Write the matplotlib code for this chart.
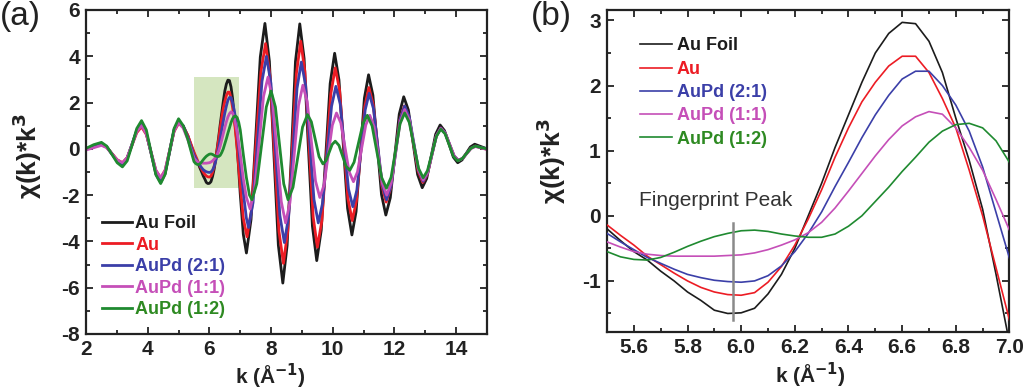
import matplotlib
matplotlib.use("Agg")
import matplotlib.pyplot as plt
from matplotlib.patches import Rectangle
from matplotlib.ticker import MultipleLocator, FormatStrFormatter

plt.rcParams['font.family'] = ['Liberation Sans', 'DejaVu Sans']
plt.rcParams['axes.unicode_minus'] = False

# ---------------- data ----------------
series_names = ['Au Foil', 'Au', 'AuPd (2:1)', 'AuPd (1:1)', 'AuPd (1:2)']
series_colors = ['#1c1c1c', '#ec1c24', '#3b3fa8', '#c54fb8', '#1f8a30']
text_colors = ['#1c1c1c', '#ec1c24', '#3b3fa8', '#c54fb8', '#2e8a22']

# low-k part (panel a), shared k grid
k_lo = [2.0, 2.25, 2.5, 2.67, 2.84, 3.01, 3.18, 3.335, 3.49, 3.645, 3.8, 3.955,
        4.11, 4.265, 4.42, 4.565, 4.71, 4.855, 5.0, 5.15, 5.3, 5.4]
black_lo = [0.0, 0.12, 0.22, 0.09, -0.22, -0.52, -0.65, -0.4, 0.2, 0.8, 1.05, 0.68,
            -0.2, -1.09, -1.45, -1.07, -0.14, 0.8, 1.18, 1.0, 0.57, 0.17]
red_lo = [-0.02, 0.08, 0.18, 0.07, -0.2, -0.47, -0.6, -0.38, 0.15, 0.7, 0.95, 0.62,
          -0.15, -0.93, -1.25, -0.92, -0.08, 0.75, 1.1, 0.95, 0.58, 0.22]
blue_lo = [0.0, 0.1, 0.2, 0.08, -0.22, -0.52, -0.65, -0.4, 0.18, 0.78, 1.05, 0.68,
           -0.17, -1.0, -1.35, -1.0, -0.1, 0.83, 1.2, 0.98, 0.5, 0.1]
mag_lo = [-0.05, 0.05, 0.15, 0.05, -0.22, -0.48, -0.6, -0.38, 0.18, 0.75, 1.0, 0.65,
          -0.15, -0.93, -1.25, -0.93, -0.07, 0.77, 1.12, 0.9, 0.4, 0.0]
green_lo = [0.02, 0.18, 0.28, 0.12, -0.24, -0.6, -0.78, -0.52, 0.15, 0.88, 1.22, 0.82,
            -0.15, -1.12, -1.5, -1.1, -0.1, 0.88, 1.3, 1.0, 0.42, -0.08]

# zoomed region (panel b), shared k grid 5.5 .. 7.0
k_b = [5.5, 5.55, 5.6, 5.65, 5.7, 5.75, 5.8, 5.85, 5.9, 5.95, 6.0, 6.05, 6.1, 6.15,
       6.2, 6.25, 6.3, 6.35, 6.4, 6.45, 6.5, 6.55, 6.6, 6.65, 6.7, 6.75, 6.8, 6.85,
       6.9, 6.95, 7.0]
black_b = [-0.2, -0.38, -0.55, -0.68, -0.85, -1.0, -1.17, -1.3, -1.45, -1.5, -1.49,
           -1.42, -1.2, -0.9, -0.5, 0.0, 0.5, 1.05, 1.55, 2.05, 2.5, 2.8, 2.97, 2.95,
           2.68, 2.2, 1.5, 0.85, 0.1, -0.9, -1.95]
red_b = [-0.14, -0.3, -0.45, -0.62, -0.75, -0.88, -1.0, -1.1, -1.17, -1.21, -1.22,
         -1.18, -1.02, -0.78, -0.45, -0.05, 0.4, 0.9, 1.35, 1.75, 2.05, 2.3, 2.45,
         2.45, 2.2, 1.8, 1.35, 0.7, 0.0, -0.8, -1.6]
blue_b = [-0.27, -0.4, -0.52, -0.64, -0.73, -0.82, -0.9, -0.95, -0.99, -1.01, -1.02,
          -1.0, -0.92, -0.77, -0.55, -0.27, 0.06, 0.45, 0.82, 1.2, 1.55, 1.85, 2.1,
          2.22, 2.22, 2.0, 1.7, 1.3, 0.75, 0.05, -0.65]
mag_b = [-0.4, -0.48, -0.55, -0.59, -0.61, -0.62, -0.62, -0.62, -0.62, -0.61, -0.6,
         -0.57, -0.52, -0.45, -0.37, -0.26, -0.1, 0.12, 0.38, 0.65, 0.92, 1.17, 1.38,
         1.52, 1.6, 1.56, 1.35, 1.05, 0.7, 0.25, -0.22]
green_b = [-0.55, -0.63, -0.67, -0.68, -0.64, -0.56, -0.47, -0.39, -0.32, -0.27, -0.23,
           -0.22, -0.24, -0.28, -0.31, -0.33, -0.33, -0.28, -0.16, 0.0, 0.22, 0.44,
           0.68, 0.9, 1.13, 1.3, 1.4, 1.42, 1.35, 1.15, 0.82]

# high-k part (panel a)
black_k_hi = [7.1, 7.2, 7.35, 7.5, 7.65, 7.8, 7.945, 8.09, 8.235, 8.38, 8.52, 8.66, 8.79,
              8.93, 9.07, 9.2, 9.34, 9.48, 9.625, 9.77, 9.915, 10.06, 10.2, 10.34, 10.48,
              10.62, 10.755, 10.89, 11.025, 11.16, 11.3, 11.44, 11.58, 11.72, 11.865,
              12.01, 12.155, 12.3, 12.45, 12.6, 12.75, 12.9, 13.045, 13.19, 13.335,
              13.48, 13.62, 13.765, 13.91, 14.05, 14.19, 14.325, 14.46, 14.6, 14.8, 15.0]
black_v_hi = [-3.7, -4.5, -3.05, 0.46, 3.97, 5.42, 3.78, -0.19, -4.16, -5.8, -4.17, -0.2,
              3.77, 5.4, 3.91, 0.29, -3.34, -4.83, -3.52, -0.35, 2.82, 4.13, 2.98, 0.2,
              -2.57, -3.72, -2.71, -0.26, 2.19, 3.2, 2.32, 0.17, -1.98, -2.86, -2.11,
              -0.3, 1.5, 2.25, 1.68, 0.29, -1.11, -1.68, -1.28, -0.33, 0.63, 1.03, 0.79,
              0.22, -0.36, -0.6, -0.48, -0.2, 0.08, 0.2, 0.1, 0.0]
red_k_hi = [7.1, 7.22, 7.37, 7.52, 7.67, 7.82, 7.965, 8.11, 8.255, 8.4, 8.54, 8.68, 8.82,
            8.96, 9.095, 9.23, 9.365, 9.5, 9.645, 9.79, 9.935, 10.08, 10.22, 10.355,
            10.49, 10.63, 10.765, 10.9, 11.035, 11.17, 11.31, 11.45, 11.59, 11.73, 11.88,
            12.025, 12.17, 12.32, 12.47, 12.62, 12.77, 12.92, 13.065, 13.21, 13.355,
            13.5, 13.64, 13.785, 13.93, 14.07, 14.21, 14.345, 14.48, 14.62, 14.8, 15.0]
red_v_hi = [-3.0, -3.8, -2.58, 0.38, 3.33, 4.55, 3.16, -0.2, -3.56, -4.95, -3.55, -0.15,
            3.25, 4.65, 3.35, 0.2, -2.95, -4.25, -3.12, -0.38, 2.37, 3.5, 2.54, 0.2,
            -2.14, -3.1, -2.26, -0.23, 1.81, 2.65, 1.93, 0.18, -1.58, -2.3, -1.69, -0.23,
            1.24, 1.85, 1.37, 0.2, -0.97, -1.45, -1.11, -0.28, 0.56, 0.9, 0.7, 0.2, -0.3,
            -0.5, -0.41, -0.19, 0.03, 0.12, 0.05, -0.02]
blue_k_hi = [7.1, 7.2, 7.27, 7.415, 7.56, 7.705, 7.85, 7.995, 8.14, 8.285, 8.43, 8.57,
             8.705, 8.84, 8.98, 9.12, 9.255, 9.39, 9.53, 9.67, 9.815, 9.96, 10.1, 10.24,
             10.375, 10.51, 10.65, 10.78, 10.915, 11.05, 11.18, 11.32, 11.46, 11.6, 11.74,
             11.89, 12.035, 12.18, 12.33, 12.48, 12.63, 12.78, 12.93, 13.07, 13.215,
             13.36, 13.5, 13.64, 13.785, 13.93, 14.07, 14.21, 14.345, 14.48, 14.62, 14.8,
             15.0]
blue_v_hi = [-1.9, -3.0, -3.4, -2.32, 0.3, 2.92, 4.0, 2.83, -0.03, -2.88, -4.05, -2.91,
             -0.15, 2.61, 3.75, 2.74, 0.28, -2.19, -3.2, -2.34, -0.25, 1.84, 2.7, 1.94,
             0.1, -1.74, -2.5, -1.79, -0.05, 1.68, 2.4, 1.73, 0.1, -1.53, -2.2, -1.61,
             -0.18, 1.26, 1.85, 1.38, 0.23, -0.93, -1.4, -1.06, -0.25, 0.57, 0.9, 0.7,
             0.2, -0.3, -0.5, -0.41, -0.19, 0.03, 0.12, 0.06, 0.0]
mag_k_hi = [7.1, 7.2, 7.32, 7.465, 7.61, 7.755, 7.9, 8.04, 8.185, 8.33, 8.47, 8.61, 8.75,
            8.89, 9.03, 9.17, 9.305, 9.44, 9.58, 9.715, 9.85, 9.985, 10.12, 10.26,
            10.395, 10.53, 10.67, 10.8, 10.935, 11.07, 11.2, 11.34, 11.475, 11.61, 11.75,
            11.895, 12.04, 12.185, 12.33, 12.48, 12.63, 12.78, 12.93, 13.07, 13.215,
            13.36, 13.5, 13.64, 13.785, 13.93, 14.07, 14.21, 14.345, 14.48, 14.62, 14.8,
            15.0]
mag_v_hi = [-1.3, -2.1, -2.6, -1.77, 0.25, 2.27, 3.1, 2.18, -0.05, -2.28, -3.2, -2.33,
            -0.23, 1.88, 2.75, 2.04, 0.33, -1.39, -2.1, -1.57, -0.28, 1.02, 1.55, 1.12,
            0.07, -0.99, -1.42, -1.0, 0.02, 1.03, 1.45, 0.95, -0.28, -1.5, -2.0, -1.46,
            -0.15, 1.16, 1.7, 1.26, 0.18, -0.91, -1.35, -1.03, -0.24, 0.56, 0.88, 0.68,
            0.19, -0.3, -0.5, -0.41, -0.2, 0.01, 0.1, 0.04, -0.03]
green_k_hi = [7.1, 7.2, 7.3, 7.38, 7.535, 7.69, 7.845, 8.0, 8.14, 8.275, 8.41, 8.55, 8.71,
              8.865, 9.02, 9.18, 9.305, 9.43, 9.555, 9.68, 9.78, 9.88, 9.98, 10.08, 10.2,
              10.315, 10.43, 10.55, 10.69, 10.835, 10.98, 11.12, 11.275, 11.43, 11.585,
              11.74, 11.89, 12.035, 12.18, 12.33, 12.48, 12.63, 12.78, 12.93, 13.07,
              13.215, 13.36, 13.5, 13.64, 13.775, 13.91, 14.05, 14.19, 14.335, 14.48,
              14.62, 14.8, 15.0]
green_v_hi = [-0.25, -1.25, -2.0, -2.2, -1.51, 0.15, 1.81, 2.5, 1.81, 0.15, -1.51, -2.2,
              -1.66, -0.36, 0.94, 1.48, 1.17, 0.42, -0.34, -0.65, -0.51, -0.16, 0.19,
              0.33, 0.15, -0.3, -0.75, -0.93, -0.58, 0.26, 1.1, 1.45, 0.99, -0.13, -1.24,
              -1.7, -1.23, -0.08, 1.08, 1.55, 1.14, 0.15, -0.84, -1.25, -0.94, -0.2, 0.54,
              0.85, 0.65, 0.17, -0.32, -0.52, -0.43, -0.2, 0.03, 0.12, 0.06, 0.0]

# highlighted box (panel a) and fingerprint marker (panel b)
box_k = (5.5, 6.95)
box_v = (-1.68, 3.12)
fp_k = 5.97
fp_v = (-1.6, -0.11)
fp_text = 'Fingerprint Peak'

lo_vals = [black_lo, red_lo, blue_lo, mag_lo, green_lo]
b_vals = [black_b, red_b, blue_b, mag_b, green_b]
hi_k = [black_k_hi, red_k_hi, blue_k_hi, mag_k_hi, green_k_hi]
hi_v = [black_v_hi, red_v_hi, blue_v_hi, mag_v_hi, green_v_hi]

# ---------------- figure ----------------
fig = plt.figure(figsize=(10.24, 3.92), dpi=100)
ax1 = fig.add_axes([0.084, 0.148, 0.3916, 0.8265])
ax2 = fig.add_axes([0.5928, 0.1538, 0.393, 0.8207])

ax1.add_patch(Rectangle((box_k[0], box_v[0]), box_k[1] - box_k[0], box_v[1] - box_v[0],
                        facecolor='#d5e6c0', edgecolor='none', zorder=0))

for i in range(5):
    k_all = k_lo + k_b + hi_k[i]
    v_all = lo_vals[i] + b_vals[i] + hi_v[i]
    ax1.plot(k_all, v_all, color=series_colors[i], lw=2.0, label=series_names[i],
             zorder=2 + i * 0.1)
    ax2.plot(k_b, b_vals[i], color=series_colors[i], lw=1.2, label=series_names[i],
             zorder=3)

ax2.plot([fp_k, fp_k], list(fp_v), color='#8a8a8a', lw=1.8, zorder=5)
ax2.text(5.62, 0.24, fp_text, fontsize=15, color='#333333', ha='left', va='center')

ax1.set_xlim(2, 15)
ax1.set_ylim(-8, 6)
ax1.xaxis.set_major_locator(MultipleLocator(2))
ax1.xaxis.set_minor_locator(MultipleLocator(1))
ax1.yaxis.set_major_locator(MultipleLocator(2))
ax1.yaxis.set_minor_locator(MultipleLocator(1))

ax2.set_xlim(5.5, 7.0)
ax2.set_ylim(-1.78, 3.16)
ax2.xaxis.set_major_locator(MultipleLocator(0.2))
ax2.xaxis.set_minor_locator(MultipleLocator(0.1))
ax2.xaxis.set_major_formatter(FormatStrFormatter('%.1f'))
ax2.yaxis.set_major_locator(MultipleLocator(1))
ax2.yaxis.set_minor_locator(MultipleLocator(0.5))

for ax in (ax1, ax2):
    for sp in ax.spines.values():
        sp.set_linewidth(1.6)
        sp.set_color('#222222')
    ax.tick_params(which='both', direction='in', top=True, right=True, width=1.3,
                   color='#222222')
    ax.tick_params(which='major', length=5, pad=4.5, labelsize=15)
    ax.tick_params(which='minor', length=3)
    for lab in ax.get_xticklabels() + ax.get_yticklabels():
        lab.set_fontweight('bold')
        lab.set_color('#222222')

xlab = 'k (Å$^{\\mathbf{-1}}$)'
ylab = 'χ(k)*k$^{\\mathbf{3}}$'
ax1.set_xlabel(xlab, fontsize=15, fontweight='bold', color='#222222')
ax1.set_ylabel(ylab, fontsize=19, fontweight='bold', color='#222222')
ax2.set_xlabel(xlab, fontsize=15, fontweight='bold', color='#222222')
ax2.set_ylabel(ylab, fontsize=19, fontweight='bold', color='#222222')
ax1.xaxis.set_label_coords(0.46, -0.085)
ax2.xaxis.set_label_coords(0.505, -0.09)
ax1.yaxis.set_label_coords(-0.105, 0.55)
ax2.yaxis.set_label_coords(-0.098, 0.53)

leg1 = ax1.legend(loc='upper left', bbox_to_anchor=(102 / 1024, 1 - 215 / 392),
                  bbox_transform=fig.transFigure, frameon=False, borderpad=0,
                  borderaxespad=0, handlelength=1.65, handletextpad=0.2,
                  labelspacing=0.25, prop={'weight': 'bold', 'size': 13})
leg2 = ax2.legend(loc='upper left', bbox_to_anchor=(640 / 1024, 1 - 37.5 / 392),
                  bbox_transform=fig.transFigure, frameon=False, borderpad=0,
                  borderaxespad=0, handlelength=1.75, handletextpad=0.3,
                  labelspacing=0.35, prop={'weight': 'bold', 'size': 13})
for leg in (leg1, leg2):
    for t, c in zip(leg.get_texts(), text_colors):
        t.set_color(c)

fig.text(0.0, 0.998, '(a)', fontsize=24, ha='left', va='top', color='#222222')
fig.text(0.518, 0.998, '(b)', fontsize=24, ha='left', va='top', color='#222222')

fig.savefig('out.png', dpi=100)
